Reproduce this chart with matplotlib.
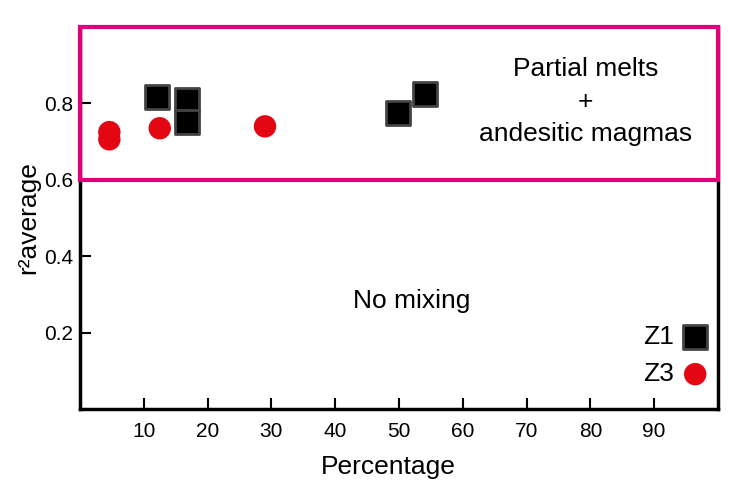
import matplotlib
matplotlib.use("Agg")
import matplotlib.pyplot as plt
from matplotlib.patches import Rectangle

plt.rcParams['font.family'] = ['Liberation Sans', 'DejaVu Sans']

# Z1 samples (squares)
z1_pct = [12.1, 16.7, 16.7, 49.8, 54.0]
z1_r2 = [0.818, 0.808, 0.751, 0.774, 0.826]

# Z3 samples (circles)
z3_pct = [4.6, 4.6, 12.5, 29.0]
z3_r2 = [0.725, 0.706, 0.735, 0.740]

x_ticks = [10, 20, 30, 40, 50, 60, 70, 80, 90]
y_ticks = [0.2, 0.4, 0.6, 0.8]

fig = plt.figure(figsize=(7.36, 4.83), dpi=100)
ax = fig.add_axes([0.1087, 0.1532, 0.8668, 0.7908])

red = '#e30613'
magenta = '#e2007a'

sq = ax.scatter(z1_pct, z1_r2, marker='s', s=320, c='black',
                edgecolors='#444444', linewidths=2, zorder=3)
ci = ax.scatter(z3_pct, z3_r2, marker='o', s=260, c=red,
                edgecolors='none', zorder=3)

ax.set_xlim(0, 100)
ax.set_ylim(0, 1.0)
ax.set_xticks(x_ticks)
ax.set_yticks(y_ticks)
ax.set_xticklabels([str(t) for t in x_ticks])
ax.set_yticklabels(['%.1f' % t for t in y_ticks])
ax.tick_params(direction='in', length=8, width=1.5, labelsize=15)
ax.tick_params(axis='x', pad=9)
ax.tick_params(axis='y', pad=5)

for side in ['left', 'bottom', 'right']:
    ax.spines[side].set_linewidth(2.5)
ax.spines['top'].set_visible(False)

# mixing zone box
ax.add_patch(Rectangle((0, 0.6), 100, 0.4, fill=False, edgecolor=magenta,
                       linewidth=3, zorder=4, clip_on=False))

ax.text(79.3, 0.805, 'Partial melts\n+\nandesitic magmas', ha='center',
        va='center', fontsize=19, linespacing=1.45)
ax.text(52, 0.283, 'No mixing', ha='center', va='center', fontsize=19)

ax.legend([sq, ci], ['Z1', 'Z3'], loc='lower right', markerfirst=False,
          frameon=False, fontsize=19, handlelength=1.0, handletextpad=0.3,
          labelspacing=0.5, borderpad=0, borderaxespad=0,
          bbox_to_anchor=(0.985, 0.06))

ax.set_xlabel('Percentage', fontsize=19)
ax.xaxis.set_label_coords(0.484, -0.12)
ax.xaxis.label.set_va('top')
ax.set_ylabel('r²average', fontsize=19, labelpad=3)

fig.savefig('out.png', dpi=100)
